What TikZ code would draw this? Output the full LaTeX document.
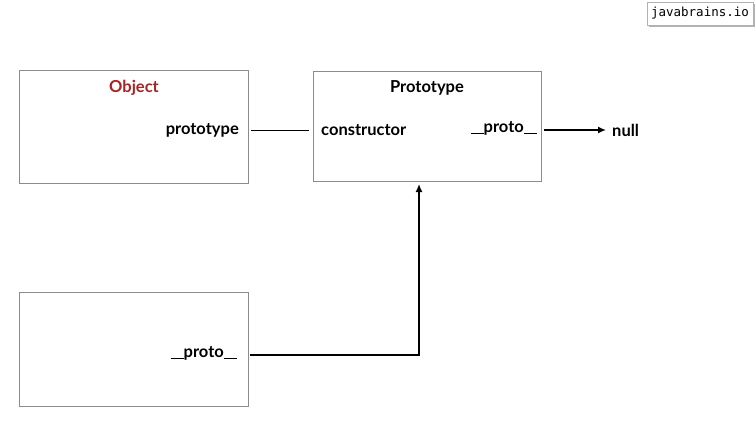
\documentclass[tikz,border=0pt]{standalone}
\usepackage{fontspec}
\setmainfont{Lato}
\newfontfamily\badgefont{DejaVu Sans Mono}
\usetikzlibrary{arrows.meta,shadows}
\definecolor{objred}{RGB}{170,34,34}
\newcommand{\uline}{\rule[-1.5pt]{13pt}{1.1pt}}
\begin{document}
\begin{tikzpicture}[x=1pt, y=-1pt, every node/.style={font=\bfseries\fontsize{16.5}{19}\selectfont},
  box/.style={draw=black!45, line width=0.9pt, minimum width=229pt, minimum height=113pt, inner sep=0pt},
  lbl/.style={inner sep=1pt},
  link/.style={line width=0.9pt},
  ptr/.style={line width=1.5pt, -{Latex[length=8pt,width=7pt]}}]
\useasboundingbox[fill=white] (0,0) rectangle (756,434);
% boxes
\node[box] (objbox) at (133.5,126.5) {};
\node[box, minimum width=228pt, minimum height=110pt] (protobox) at (427,126) {};
\node[box, minimum height=114pt] (instbox) at (133.5,349) {};
% labels
\node[lbl, text=objred] (objname) at (134,88) {Object};
\node[lbl, anchor=east] (objproto) at (240,130) {prototype};
\node[lbl] (protoname) at (427,88) {Prototype};
\node[lbl, anchor=west] (ctor) at (320,130) {constructor};
\node[lbl, anchor=east] (protoproto) at (538,128) {\uline proto\uline};
\node[lbl, anchor=west] (null) at (611,130) {null};
\node[lbl, anchor=east] (instproto) at (238,353) {\uline proto\uline};
% connectors
\draw[link] ([xshift=11pt]objproto.east) -- ([xshift=-11pt]ctor.west);
\coordinate (nullstart) at (544,130);
\draw[ptr] (nullstart) -- ([xshift=-5pt]null.west |- nullstart);
\coordinate (bstart) at (250,355);
\coordinate (bend) at (419,184);
\draw[ptr] (bstart) -| (bend);
% watermark badge
\node[font=\badgefont\fontsize{12.5}{14}\selectfont, fill=white, draw=black!30, drop shadow={shadow xshift=1.5pt, shadow yshift=-1.5pt, opacity=0.6},
  minimum width=106pt, minimum height=23pt, inner sep=2pt] (badge) at (700,13.5) {javabrains.io};
\end{tikzpicture}
\end{document}
